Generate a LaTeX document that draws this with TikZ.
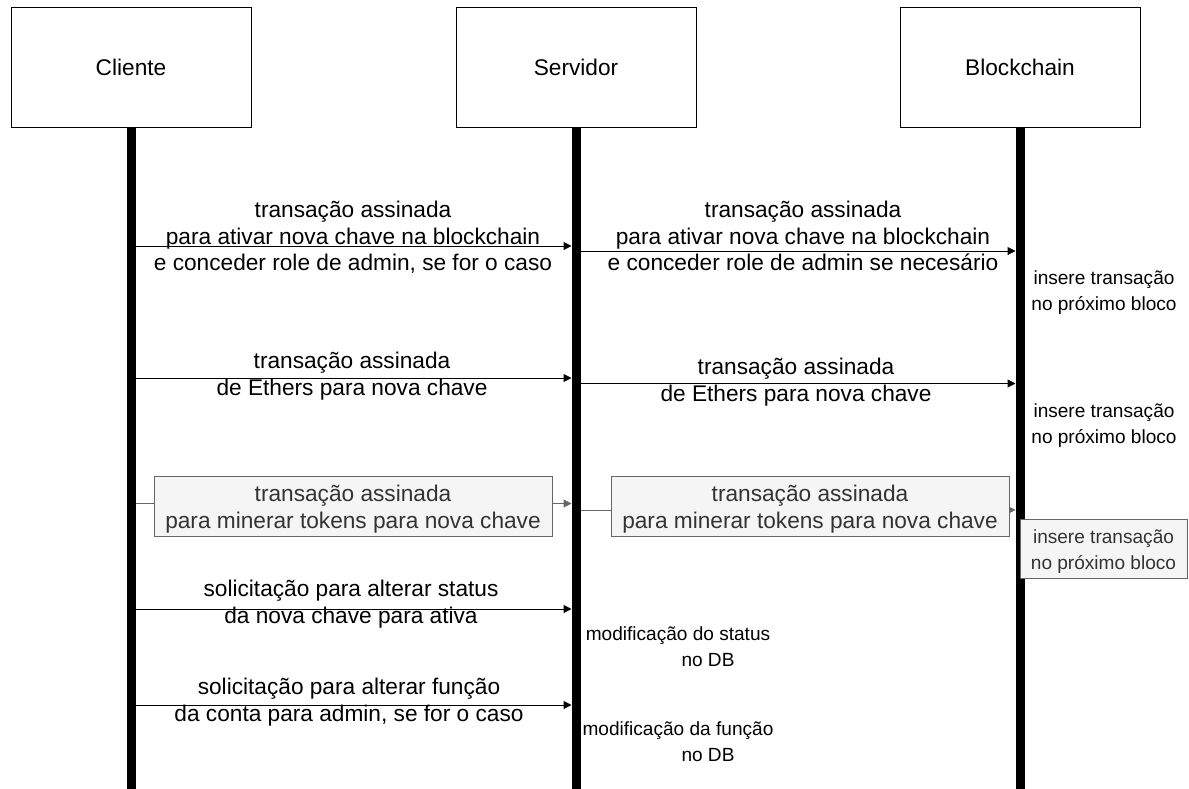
\documentclass[tikz,border=0pt]{standalone}
\usepackage{fontspec}
\setmainfont{Liberation Sans}
\usetikzlibrary{arrows.meta}
\definecolor{lblgrey}{HTML}{333333}
\definecolor{boxfill}{HTML}{F5F5F5}
\definecolor{boxline}{HTML}{666666}
% invisible struts that fix the height of a label's first line
\newcommand{\topstrut}{\rule{0pt}{13pt}}
\newcommand{\smstrut}{\rule{0pt}{11pt}}
\newcommand{\boxstrut}{\rule{0pt}{16pt}}
\newcommand{\noteboxstrut}{\rule{0pt}{14.5pt}}
\begin{document}
\begin{tikzpicture}[x=0.75pt,y=-0.75pt,
  mainfont/.style={font=\fontsize{17pt}{19.9pt}\selectfont},
  smallfont/.style={font=\fontsize{14.3pt}{19.5pt}\selectfont},
  actor/.style={draw=black, line width=0.75pt, fill=white, minimum width=180pt,
    minimum height=90pt, inner sep=0pt, mainfont},
  lifeline/.style={line width=6.75pt, black},
  msg/.style={line width=0.75pt, black, -{Triangle[length=6pt,width=6pt]}},
  greymsg/.style={msg, draw=boxline},
  lbl/.style={anchor=north, align=center, inner sep=0pt, mainfont},
  note/.style={anchor=north, align=center, inner sep=0pt, smallfont},
  greybox/.style={draw=boxline, fill=boxfill, text=lblgrey, line width=0.75pt,
    align=center, inner sep=0pt, minimum width=298.5pt, minimum height=45pt, mainfont},
  greynote/.style={draw=boxline, fill=boxfill, text=lblgrey, line width=0.75pt,
    align=center, inner sep=0pt, minimum width=125.25pt, minimum height=44.25pt, smallfont},
]
\useasboundingbox (0,0) rectangle (1189,789);

% participants and their lifelines
\coordinate (clEnd) at (131,789);
\coordinate (svEnd) at (576,789);
\coordinate (bcEnd) at (1020,789);
\node[actor] (cl) at (131,67) {Cliente};
\node[actor] (sv) at (576,67) {Servidor};
\node[actor] (bc) at (1020,67) {Blockchain};
\draw[lifeline] (cl.south) -- (clEnd);
\draw[lifeline] (sv.south) -- (svEnd);
\draw[lifeline] (bc.south) -- (bcEnd);

% 1: key activation transaction
\coordinate (m1a) at (135.5,246); \coordinate (m1b) at (571.5,246);
\coordinate (m1c) at (580.5,251); \coordinate (m1d) at (1015.5,251);
\draw[msg] (m1a) -- (m1b);
\draw[msg] (m1c) -- (m1d);
\node[lbl] (t1a) at (353,200) {\topstrut transação assinada\\para ativar nova chave na blockchain\\e conceder role de admin, se for o caso};
\node[lbl] (t1b) at (803,200) {\topstrut transação assinada\\para ativar nova chave na blockchain\\e conceder role de admin se necesário};
\node[note] (n1) at (1104,269.3) {\smstrut insere transação\\no próximo bloco};

% 2: Ether transfer
\coordinate (m2a) at (135.5,378); \coordinate (m2b) at (571.5,378);
\coordinate (m2c) at (580.5,383.5); \coordinate (m2d) at (1015.5,383.5);
\draw[msg] (m2a) -- (m2b);
\draw[msg] (m2c) -- (m2d);
\node[lbl] (t2a) at (352,351) {\topstrut transação assinada\\de Ethers para nova chave};
\node[lbl] (t2b) at (796,357) {\topstrut transação assinada\\de Ethers para nova chave};
\node[note] (n2) at (1104,402.6) {\smstrut insere transação\\no próximo bloco};

% 3: token minting (greyed out)
\coordinate (m3a) at (135.5,503.5); \coordinate (m3b) at (571.5,503.5);
\coordinate (m3c) at (580.5,510); \coordinate (m3d) at (1015.5,510);
\draw[greymsg] (m3a) -- (m3b);
\draw[greymsg] (m3c) -- (m3d);
\node[greybox] (t3a) at (353,506.5) {\boxstrut transação assinada\\para minerar tokens para nova chave};
\node[greybox] (t3b) at (810,506.7) {\boxstrut transação assinada\\para minerar tokens para nova chave};
\node[greynote] (n3) at (1103.5,548.5) {\noteboxstrut insere transação\\no próximo bloco};

% 4: status change
\coordinate (m4a) at (135.5,609); \coordinate (m4b) at (571.5,609);
\draw[msg] (m4a) -- (m4b);
\node[lbl] (t4) at (351,579) {\topstrut solicitação para alterar status\\da nova chave para ativa};
\node[note] (n4) at (678,625.3) {\smstrut modificação do status\\\hspace*{45pt}no DB};

% 5: role change
\coordinate (m5a) at (135.5,705); \coordinate (m5b) at (571.5,705);
\draw[msg] (m5a) -- (m5b);
\node[lbl] (t5) at (349,677) {\topstrut solicitação para alterar função\\da conta para admin, se for o caso};
\node[note] (n5) at (678,721) {\smstrut modificação da função\\\hspace*{45pt}no DB};
\end{tikzpicture}
\end{document}
